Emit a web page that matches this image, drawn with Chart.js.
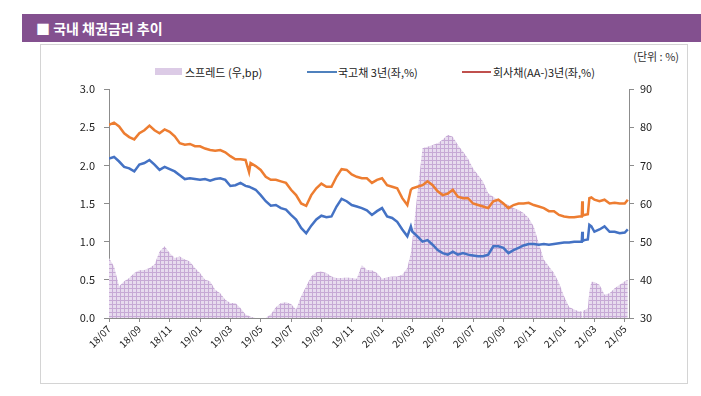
<!DOCTYPE html>
<html>
<head>
<meta charset="utf-8">
<script src="https://cdn.jsdelivr.net/npm/chart.js@4.4.1/dist/chart.umd.min.js"></script>
<style>
  body { margin: 0; width: 701px; height: 396px; background: #fff; position: relative; overflow: hidden;
         font-family: 'Noto Sans CJK KR', sans-serif; }
  #head { position: absolute; left: 22px; top: 14px; width: 679px; height: 28px; background: #83508f;
          color: #fff; font-weight: bold; font-size: 14px; line-height: 28px; padding-left: 14px; box-sizing: border-box; }
  #panel { position: absolute; left: 40px; top: 44px; width: 648px; height: 340px; border: 1px solid #d4d4d4; box-sizing: border-box; }
  #wrap { position: absolute; left: 40px; top: 44px; width: 648px; height: 340px; }
  #unit { position: absolute; right: 22px; top: 48px; font-size: 11px; color: #333; }
  .lg { position: absolute; top: 65px; font-size: 11px; color: #222; line-height: 14px; white-space: nowrap; }
  .sw { position: absolute; }
</style>
</head>
<body>
<div id="head">■ 국내 채권금리 추이</div>
<div id="panel"></div>
<div id="unit">(단위 : %)</div>
<div class="sw" style="left:155px;top:68px;width:27px;height:7px;background:#dccbe6"></div>
<div class="lg" style="left:185px">스프레드 (우,bp)</div>
<div class="sw" style="left:307px;top:71px;width:30px;height:2px;background:#4f81bd"></div>
<div class="lg" style="left:338px">국고채 3년(좌,%)</div>
<div class="sw" style="left:462px;top:71px;width:29px;height:2px;background:#c0504d"></div>
<div class="lg" style="left:493px">회사채(AA-)3년(좌,%)</div>
<div id="wrap"><canvas id="myChart"></canvas></div>
<script>
var dates = ['18/07/01','18/07/11','18/07/21','18/08/01','18/08/11','18/08/21','18/09/01','18/09/11','18/09/21',
    '18/10/01','18/10/11','18/10/21','18/11/01','18/11/11','18/11/21','18/12/01','18/12/11','18/12/21',
    '19/01/01','19/01/11','19/01/21','19/02/01','19/02/11','19/02/21','19/03/01','19/03/11','19/03/21',
    '19/04/01','19/04/08','19/04/11','19/04/21','19/05/01','19/05/11','19/05/21','19/06/01','19/06/11','19/06/21',
    '19/07/01','19/07/11','19/07/21','19/08/01','19/08/11','19/08/21','19/09/01','19/09/11','19/09/21',
    '19/10/01','19/10/11','19/10/21','19/11/01','19/11/11','19/11/21','19/12/01','19/12/11','19/12/21',
    '20/01/01','20/01/11','20/01/21','20/02/01','20/02/11','20/02/21','20/02/28','20/03/01','20/03/11','20/03/21',
    '20/04/01','20/04/11','20/04/21','20/05/01','20/05/11','20/05/21','20/06/01','20/06/11','20/06/21',
    '20/07/01','20/07/11','20/07/21','20/08/01','20/08/11','20/08/21','20/09/01','20/09/11','20/09/21',
    '20/10/01','20/10/11','20/10/21','20/11/01','20/11/11','20/11/21','20/12/01','20/12/11','20/12/21',
    '21/01/01','21/01/11','21/01/21','21/02/01','21/02/06','21/02/07','21/02/08','21/02/11','21/02/18','21/02/21','21/02/25',
    '21/03/01','21/03/11','21/03/21','21/04/01','21/04/11','21/04/21','21/05/01','21/05/07'];

// 회사채(AA-) 3년, %
var corp3y = [2.53,2.56,2.51,2.42,2.37,2.34,2.42,2.46,2.52,
    2.46,2.42,2.47,2.44,2.38,2.29,2.27,2.28,2.25,
    2.25,2.22,2.20,2.19,2.20,2.17,2.12,2.08,2.08,
    2.07,1.91,2.03,1.99,1.94,1.85,1.81,1.81,1.79,1.77,
    1.68,1.61,1.50,1.47,1.61,1.70,1.76,1.72,1.72,
    1.85,1.95,1.94,1.88,1.85,1.83,1.83,1.77,1.81,
    1.83,1.74,1.72,1.70,1.57,1.48,1.68,1.70,1.72,1.74,
    1.79,1.74,1.66,1.61,1.63,1.68,1.59,1.57,1.57,
    1.50,1.48,1.46,1.44,1.53,1.55,1.50,1.44,1.48,
    1.50,1.50,1.51,1.48,1.46,1.44,1.40,1.40,1.35,
    1.33,1.32,1.32,1.33,1.33,1.53,1.34,1.35,1.36,1.57,1.58,
    1.55,1.53,1.55,1.50,1.51,1.50,1.50,1.55];

// 국고채 3년, %
var govt3y = [2.09,2.11,2.05,1.98,1.96,1.92,2.01,2.03,2.07,
    2.01,1.94,1.98,1.95,1.92,1.87,1.82,1.83,1.82,
    1.81,1.82,1.80,1.82,1.83,1.81,1.73,1.74,1.77,
    1.73,1.72,1.71,1.68,1.61,1.53,1.47,1.48,1.44,1.42,
    1.35,1.29,1.18,1.11,1.21,1.29,1.34,1.32,1.33,
    1.46,1.56,1.53,1.48,1.46,1.44,1.41,1.35,1.40,
    1.44,1.33,1.31,1.26,1.16,1.07,1.20,1.13,1.07,1.00,
    1.02,0.96,0.89,0.85,0.83,0.87,0.83,0.85,0.83,
    0.82,0.81,0.81,0.83,0.94,0.94,0.92,0.85,0.89,
    0.92,0.95,0.97,0.97,0.96,0.97,0.96,0.97,0.98,
    0.99,0.99,1.00,1.00,1.00,1.13,1.01,1.02,1.03,1.22,1.20,
    1.13,1.16,1.20,1.13,1.13,1.11,1.12,1.16];

// 스프레드, bp
var spread = [45.7,43.5,38.3,39.6,40.5,41.8,42.5,42.6,43.1,
    44.0,47.4,48.8,47.0,45.7,46.1,45.3,44.8,43.1,
    41.8,40.0,39.6,37.4,36.5,34.8,33.9,33.9,32.6,
    30.9,30.5,30.3,30,30,30,31.0,32.8,33.9,34.1,
    33.7,32.2,35.7,38.3,40.9,42.0,42.2,41.8,40.9,
    40.5,40.5,40.6,40.5,40.3,43.9,42.6,42.5,41.8,
    40.3,40.7,40.9,40.9,41.3,43.1,47.0,50.5,62.7,74.5,
    74.9,75.3,75.8,76.8,78.0,77.5,75.3,73.6,71.8,
    69.2,67.5,65.7,62.7,61.8,60.9,60.1,59.6,58.8,
    58.3,57.5,56.2,54.0,49.6,45.3,43.5,41.8,39.2,
    35.7,32.9,32.2,31.7,31.8,30,31.9,32.0,32.5,37.0,39.5,
    39.4,38.7,36.1,36.5,37.8,38.7,39.6,40.0];

var tickLabels = ['18/07','18/09','18/11','19/01','19/03','19/05','19/07','19/09','19/11',
    '20/01','20/03','20/05','20/07','20/09','20/11','21/01','21/03','21/05'];

// months since 2018-07
function toMonth(s) {
    var p = s.split('/').map(Number);
    return (p[0] - 18) * 12 + (p[1] - 7) + ((p[2] || 1) - 1) / 30;
}
var tickPos = tickLabels.map(function(t) {return toMonth(t)});

function pts(vals) {
    return vals.map(function(v, i) {return {x: toMonth(dates[i]), y: v}});
}

function gridPattern() {
    var c = document.createElement('canvas');
    c.width = 4; c.height = 4;
    var g = c.getContext('2d');
    g.fillStyle = '#e7dbee';
    g.fillRect(0, 0, 4, 4);
    g.fillStyle = '#c6a9d5';
    g.fillRect(0, 0, 4, 1);
    g.fillRect(0, 0, 1, 4);
    return g.createPattern(c, 'repeat');
}

var font = {family: "'Noto Sans CJK KR', sans-serif", size: 11};
var axisGray = '#8c8c8c';

var ctx = document.getElementById('myChart').getContext('2d');
var chart = new Chart(ctx, {
    type: 'line',
    data: {
        datasets: [{
            label: '국고채 3년(좌,%)',
            data: pts(govt3y),
            borderColor: '#4472c4',
            borderWidth: 2.5,
            pointRadius: 0,
            yAxisID: 'y',
            order: 0
        },
        {
            label: '회사채(AA-)3년(좌,%)',
            data: pts(corp3y),
            borderColor: '#ed7d31',
            borderWidth: 2.5,
            pointRadius: 0,
            yAxisID: 'y',
            order: 0
        },
        {
            label: '스프레드 (우,bp)',
            data: pts(spread),
            borderWidth: 0,
            borderColor: 'rgba(0,0,0,0)',
            backgroundColor: gridPattern(),
            fill: 'start',
            pointRadius: 0,
            yAxisID: 'y2',
            order: 1
        }]
    },
    options: {
        responsive: true,
        maintainAspectRatio: false,
        animation: false,
        layout: {padding: {top: 45, left: 0, right: 0, bottom: 0}},
        plugins: {legend: {display: false}, tooltip: {enabled: false}},
        scales: {
            x: {
                type: 'linear',
                min: 0,
                max: 34.28,
                afterBuildTicks: function(s) { s.ticks = tickPos.map(function(v) {return {value: v}}); },
                afterFit: function(s) { s.height = 66; },
                ticks: {
                    autoSkip: false,
                    maxRotation: 45,
                    minRotation: 45,
                    padding: 1,
                    color: '#222',
                    font: {family: font.family, size: 10},
                    callback: function(v, i) { return tickLabels[i]; }
                },
                grid: {drawOnChartArea: false, tickLength: 4, color: axisGray},
                border: {color: axisGray}
            },
            y: {
                position: 'left',
                min: 0,
                max: 3,
                afterFit: function(s) { s.width = 69; },
                ticks: {stepSize: 0.5, padding: 9, color: '#222', font: font,
                    callback: function(v) { return v.toFixed(1); }},
                grid: {drawOnChartArea: false, tickLength: 5, color: axisGray},
                border: {color: axisGray}
            },
            y2: {
                position: 'right',
                min: 30,
                max: 90,
                afterFit: function(s) { s.width = 59; },
                ticks: {stepSize: 10, padding: 6, color: '#222', font: font},
                grid: {drawOnChartArea: false, tickLength: 5, color: axisGray},
                border: {color: axisGray}
            }
        }
    }
});
</script>
</body>
</html>
